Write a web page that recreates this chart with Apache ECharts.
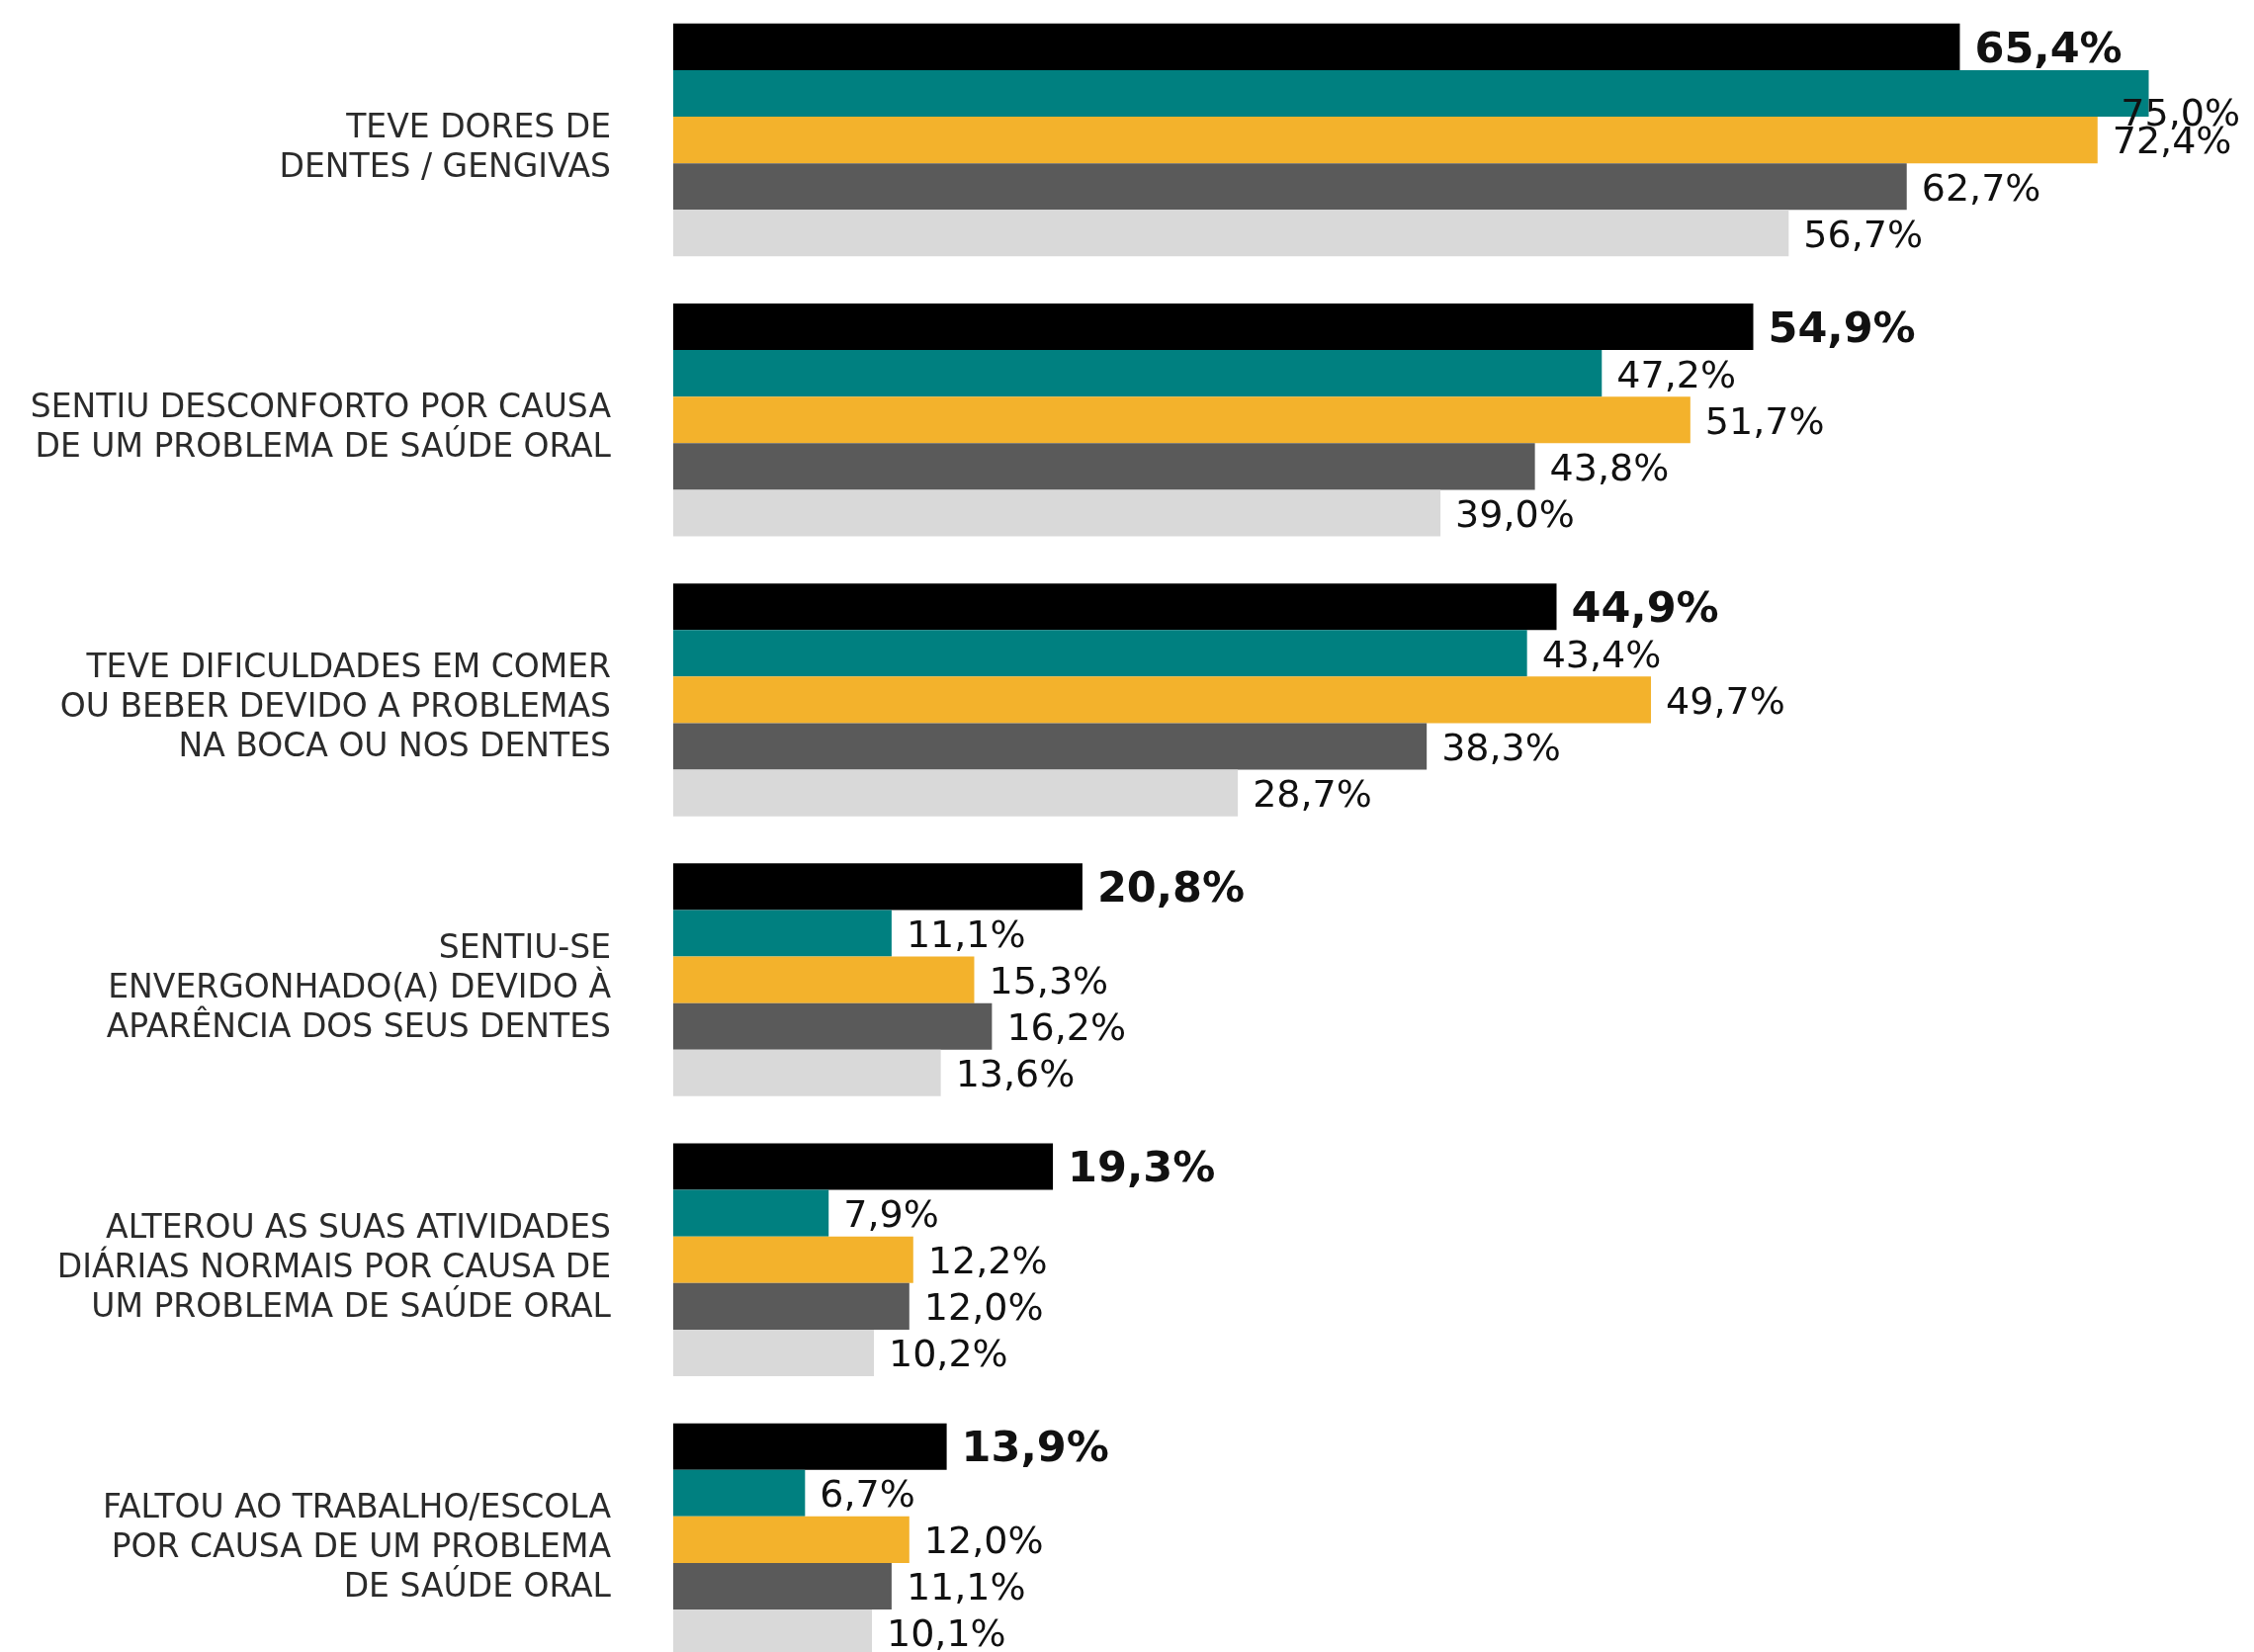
<!DOCTYPE html>
<html>
<head>
<meta charset="utf-8">
<style>
  html, body { margin: 0; padding: 0; background: #ffffff; }
  #chart { width: 2280px; height: 1671px; }
</style>
<script src="https://cdn.jsdelivr.net/npm/echarts@6/dist/echarts.min.js"></script>
</head>
<body>
<div id="chart"></div>
<script>
const categories = [
  'TEVE DORES DE\nDENTES / GENGIVAS',
  'SENTIU DESCONFORTO POR CAUSA\nDE UM PROBLEMA DE SAÚDE ORAL',
  'TEVE DIFICULDADES EM COMER\nOU BEBER DEVIDO A PROBLEMAS\nNA BOCA OU NOS DENTES',
  'SENTIU-SE\nENVERGONHADO(A) DEVIDO À\nAPARÊNCIA DOS SEUS DENTES',
  'ALTEROU AS SUAS ATIVIDADES\nDIÁRIAS NORMAIS POR CAUSA DE\nUM PROBLEMA DE SAÚDE ORAL',
  'FALTOU AO TRABALHO/ESCOLA\nPOR CAUSA DE UM PROBLEMA\nDE SAÚDE ORAL'
];
const seriesNames = ['Total', 'Grupo 1', 'Grupo 2', 'Grupo 3', 'Grupo 4'];
const valuesTotal = [65.4, 54.9, 44.9, 20.8, 19.3, 13.9];
const valuesG1 = [75.0, 47.2, 43.4, 11.1, 7.9, 6.7];
const valuesG2 = [72.4, 51.7, 49.7, 15.3, 12.2, 12.0];
const valuesG3 = [62.7, 43.8, 38.3, 16.2, 12.0, 11.1];
const valuesG4 = [56.7, 39.0, 28.7, 13.6, 10.2, 10.1];

const allValues = [valuesTotal, valuesG1, valuesG2, valuesG3, valuesG4];
const colors = ['#000000', '#008080', '#F3B22C', '#5A5A5A', '#D9D9D9'];
const FONT = 'DejaVu Sans';

const chart = echarts.init(document.getElementById('chart'), null, { renderer: 'canvas' });
const W = 2280;

function fmt(v) { return v.toFixed(1).replace('.', ',') + '%'; }

const series = allValues.map((vals, i) => ({
  name: seriesNames[i],
  type: 'bar',
  xAxisIndex: 0,
  yAxisIndex: 0,
  data: vals,
  barWidth: 47.1,
  barGap: '0%',
  itemStyle: { color: colors[i] },
  label: {
    show: true,
    position: 'right',
    distance: 15,
    formatter: p => fmt(p.value),
    color: '#111111',
    fontFamily: FONT,
    fontSize: i === 0 ? 43 : 38,
    fontWeight: i === 0 ? 'bold' : 'normal'
  },
  labelLayout: function (params) {
    const r = params.labelRect;
    const limit = W - 14;
    if (r.x + r.width > limit) {
      return { x: limit - r.width, dy: 4 };
    }
    return { dy: 4 };
  },
  emphasis: { disabled: true },
  animation: false
}));

const gridBase = { left: 681, width: 1990, height: 1699, containLabel: false, outerBoundsMode: 'none' };

const option = {
  backgroundColor: '#ffffff',
  animation: false,
  grid: [
    Object.assign({ top: 0 }, gridBase),
    Object.assign({ top: 9 }, gridBase)
  ],
  xAxis: [
    { type: 'value', gridIndex: 0, min: 0, max: 100, show: false },
    { type: 'value', gridIndex: 1, min: 0, max: 100, show: false }
  ],
  yAxis: [
    {
      type: 'category',
      gridIndex: 0,
      inverse: true,
      data: categories,
      axisLine: { show: false },
      axisTick: { show: false },
      splitLine: { show: false },
      axisLabel: { show: false }
    },
    {
      type: 'category',
      gridIndex: 1,
      inverse: true,
      data: categories,
      axisLine: { show: false },
      axisTick: { show: false },
      splitLine: { show: false },
      axisLabel: {
        margin: 63,
        fontFamily: FONT,
        fontSize: 33,
        lineHeight: 40,
        color: '#2b2b2b',
        align: 'right'
      }
    }
  ],
  series: series
};

chart.setOption(option);
</script>
</body>
</html>
